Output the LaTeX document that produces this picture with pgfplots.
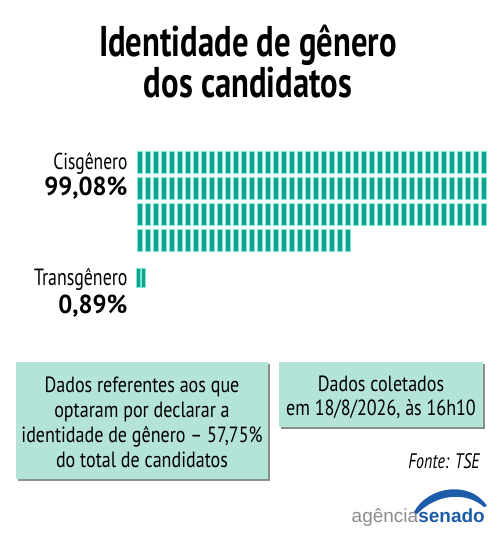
\documentclass[border=0pt]{standalone}
\usepackage{pgfplots}
\pgfplotsset{compat=1.18}
\usepackage{fontspec}
\setmainfont{PT Sans}[FakeStretch=0.76]
\newfontfamily\boxfont{PT Sans}[FakeStretch=0.82]
\newfontfamily\pctfont{PT Sans}[FakeStretch=0.95]
\newfontfamily\logofont{Liberation Sans}
\definecolor{cellteal}{HTML}{10A38D}
\definecolor{celledge}{HTML}{7FE8D2}
\definecolor{boxfill}{HTML}{B4E3D8}
\definecolor{boxshade}{HTML}{8A8F8E}
\definecolor{logogray}{HTML}{8C8C8C}
\definecolor{logoblue}{HTML}{1D5CA8}

% cells of the waffle: one mark per cell
\pgfdeclareplotmark{cisCell}{%
  \pgfpathrectangle{\pgfpoint{-2.7pt}{-10.8pt}}{\pgfpoint{5.4pt}{21.6pt}}%
  \pgfusepathqfillstroke}
\pgfdeclareplotmark{transCell}{%
  \pgfpathrectangle{\pgfpoint{-1.8pt}{-9.4pt}}{\pgfpoint{3.6pt}{18.8pt}}%
  \pgfusepathqfillstroke}

\newcommand{\fs}[2]{\fontsize{#1}{#2}\selectfont}

\begin{document}
\begin{tikzpicture}
\useasboundingbox[fill=white] (0,0) rectangle (500pt,-541pt);

% title (base anchor = last line)
\node[anchor=base, align=center, inner sep=0pt, font=\bfseries\fs{43}{37}] at (248pt,-97pt)
  {Identidade de gênero\\dos candidatos};

% category labels
\node[anchor=base east, font=\fs{23}{23}] at (131pt,-169pt) {Cisgênero};
\node[anchor=base east, font=\pctfont\bfseries\fs{26}{26}] at (131pt,-195pt) {99,08\%};
\node[anchor=base east, font=\fs{23.5}{23.5}] at (131pt,-285pt) {Transgênero};
\node[anchor=base east, font=\pctfont\bfseries\fs{26}{26}] at (131pt,-313pt) {0,89\%};

\begin{axis}[
    at={(136pt,-149pt)}, anchor=north west,
    width=352pt, height=140.4pt, scale only axis,
    xmin=0.5, xmax=44.5,
    ymin=0.5, ymax=5.9, y dir=reverse,
    hide axis, clip=false,
]
% Cisgênero: 159 cells in rows of 44
\addplot[only marks, mark=cisCell, mark options={fill=cellteal, draw=celledge, line width=0.6pt}]
coordinates {
(1,1) (2,1) (3,1) (4,1) (5,1) (6,1) (7,1) (8,1) (9,1) (10,1) (11,1) (12,1) (13,1) (14,1) (15,1)
(16,1) (17,1) (18,1) (19,1) (20,1) (21,1) (22,1) (23,1) (24,1) (25,1) (26,1) (27,1) (28,1) (29,1)
(30,1) (31,1) (32,1) (33,1) (34,1) (35,1) (36,1) (37,1) (38,1) (39,1) (40,1) (41,1) (42,1) (43,1) (44,1)
(1,2) (2,2) (3,2) (4,2) (5,2) (6,2) (7,2) (8,2) (9,2) (10,2) (11,2) (12,2) (13,2) (14,2) (15,2)
(16,2) (17,2) (18,2) (19,2) (20,2) (21,2) (22,2) (23,2) (24,2) (25,2) (26,2) (27,2) (28,2) (29,2)
(30,2) (31,2) (32,2) (33,2) (34,2) (35,2) (36,2) (37,2) (38,2) (39,2) (40,2) (41,2) (42,2) (43,2) (44,2)
(1,3) (2,3) (3,3) (4,3) (5,3) (6,3) (7,3) (8,3) (9,3) (10,3) (11,3) (12,3) (13,3) (14,3) (15,3)
(16,3) (17,3) (18,3) (19,3) (20,3) (21,3) (22,3) (23,3) (24,3) (25,3) (26,3) (27,3) (28,3) (29,3)
(30,3) (31,3) (32,3) (33,3) (34,3) (35,3) (36,3) (37,3) (38,3) (39,3) (40,3) (41,3) (42,3) (43,3) (44,3)
(1,4) (2,4) (3,4) (4,4) (5,4) (6,4) (7,4) (8,4) (9,4) (10,4) (11,4) (12,4) (13,4) (14,4) (15,4)
(16,4) (17,4) (18,4) (19,4) (20,4) (21,4) (22,4) (23,4) (24,4) (25,4) (26,4) (27,4)
};
% Transgênero: 2 cells
\addplot[only marks, mark=transCell, mark options={fill=cellteal, draw=celledge, line width=0.5pt}]
coordinates {(0.75,5.44) (1.375,5.44)};
\end{axis}

% note boxes
\fill[boxshade] (18pt,-364pt) rectangle (270pt,-481pt);
\fill[boxfill] (16pt,-362pt) rectangle (268pt,-479pt);
\fill[boxshade] (281pt,-364pt) rectangle (485pt,-429pt);
\fill[boxfill] (279pt,-362pt) rectangle (483pt,-427pt);

% multi-line nodes: base anchor sits on the last line
\node[anchor=base, align=center, font=\boxfont\fs{22}{24.7}] at (142pt,-467pt)
  {Dados referentes aos que\\optaram por declarar a\\identidade de gênero – 57,75\%\\do total de candidatos};
\node[anchor=base, align=center, font=\boxfont\fs{22}{23.5}] at (381pt,-415pt)
  {Dados coletados\\em 18/8/2026, às 16h10};

\node[anchor=base east, font=\itshape\fs{21}{21}] at (483pt,-468pt) {Fonte: TSE};

% logo
\node[anchor=base east, inner sep=0pt, font=\logofont\fs{19}{19}]
  at (485pt,-522pt) {\textcolor{logogray}{agência}\textcolor{logoblue}{\bfseries senado}};
\fill[logoblue] (414pt,-512pt) .. controls (428pt,-486pt) and (470pt,-480pt) .. (487pt,-506pt)
  -- (484pt,-507pt) .. controls (466pt,-491pt) and (436pt,-494pt) .. (417pt,-514pt) -- cycle;
\end{tikzpicture}
\end{document}
